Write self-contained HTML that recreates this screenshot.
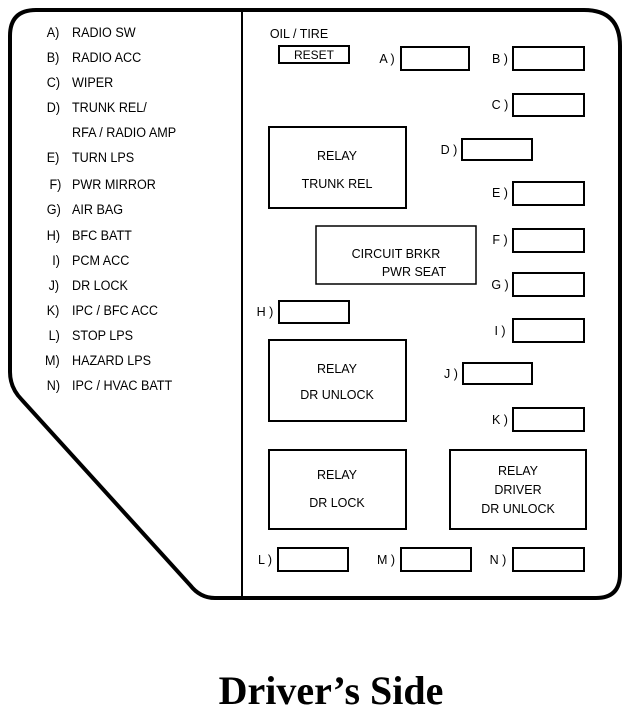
<!DOCTYPE html>
<html><head><meta charset="utf-8"><style>
html,body{margin:0;padding:0;background:#fff;}
svg{display:block}
text{font-family:"Liberation Sans",sans-serif;fill:#000;}
</style></head><body>
<svg width="640" height="714" viewBox="0 0 640 714">
<path d="M36,10 L584,10 Q620,10 620,46 L620,574 Q620,598 596,598 L215,598 Q200,598 190,585 L22,400 Q10,388 10,372 L10,36 Q10,10 36,10 Z" fill="none" stroke="#000" stroke-width="4"/>
<line x1="242" y1="12" x2="242" y2="597" stroke="#000" stroke-width="2"/>
<g font-size="14" transform="scale(0.9,1)">
<text x="52" y="37">A)</text><text x="80" y="37">RADIO  SW</text>
<text x="52" y="62">B)</text><text x="80" y="62">RADIO  ACC</text>
<text x="52" y="87">C)</text><text x="80" y="87">WIPER</text>
<text x="52" y="112">D)</text><text x="80" y="112">TRUNK REL/</text>
<text x="80" y="137">RFA / RADIO AMP</text>
<text x="52" y="162">E)</text><text x="80" y="162">TURN LPS</text>
<text x="55" y="189">F)</text><text x="80" y="189">PWR MIRROR</text>
<text x="52" y="214">G)</text><text x="80" y="214">AIR BAG</text>
<text x="52" y="240">H)</text><text x="80" y="240">BFC BATT</text>
<text x="58" y="265">I)</text><text x="80" y="265">PCM ACC</text>
<text x="54" y="290">J)</text><text x="80" y="290">DR LOCK</text>
<text x="52" y="315">K)</text><text x="80" y="315">IPC / BFC ACC</text>
<text x="54" y="340">L)</text><text x="80" y="340">STOP LPS</text>
<text x="50" y="365">M)</text><text x="80" y="365">HAZARD LPS</text>
<text x="52" y="390">N)</text><text x="80" y="390">IPC / HVAC BATT</text>
</g>
<g fill="none" stroke="#000" stroke-width="2">
<rect x="279" y="46" width="70" height="17"/>
<rect x="401" y="47" width="68" height="23"/>
<rect x="513" y="47" width="71" height="23"/>
<rect x="513" y="94" width="71" height="22"/>
<rect x="462" y="139" width="70" height="21"/>
<rect x="513" y="182" width="71" height="23"/>
<rect x="513" y="229" width="71" height="23"/>
<rect x="513" y="273" width="71" height="23"/>
<rect x="513" y="319" width="71" height="23"/>
<rect x="513" y="408" width="71" height="23"/>
<rect x="279" y="301" width="70" height="22"/>
<rect x="463" y="363" width="69" height="21"/>
<rect x="278" y="548" width="70" height="23"/>
<rect x="401" y="548" width="70" height="23"/>
<rect x="513" y="548" width="71" height="23"/>
<rect x="269" y="127" width="137" height="81"/>
<rect x="316" y="226" width="160" height="58" stroke-width="1.5"/>
<rect x="269" y="340" width="137" height="81"/>
<rect x="269" y="450" width="137" height="79"/>
<rect x="450" y="450" width="136" height="79"/>
</g>
<g font-size="12.5" text-anchor="middle">
<text x="299" y="38">OIL / TIRE</text>
<text x="314" y="59" font-size="12">RESET</text>
<text x="387" y="63">A )</text>
<text x="500" y="63">B )</text>
<text x="500" y="109">C )</text>
<text x="449" y="154">D )</text>
<text x="500" y="197">E )</text>
<text x="500" y="244">F )</text>
<text x="500" y="289">G )</text>
<text x="500" y="335">I )</text>
<text x="500" y="424">K )</text>
<text x="265" y="316">H )</text>
<text x="451" y="378">J )</text>
<text x="265" y="564">L )</text>
<text x="386" y="564">M )</text>
<text x="498" y="564">N )</text>
<text x="337" y="160">RELAY</text>
<text x="337" y="188">TRUNK REL</text>
<text x="396" y="258">CIRCUIT  BRKR</text>
<text x="414" y="276">PWR  SEAT</text>
<text x="337" y="373">RELAY</text>
<text x="337" y="399">DR  UNLOCK</text>
<text x="337" y="479">RELAY</text>
<text x="337" y="507">DR   LOCK</text>
<text x="518" y="475">RELAY</text>
<text x="518" y="494">DRIVER</text>
<text x="518" y="513">DR UNLOCK</text>
</g>
<text x="331" y="704" text-anchor="middle" font-weight="bold" font-size="40" style="font-family:'Liberation Serif',serif">Driver’s Side</text>
</svg>
</body></html>
